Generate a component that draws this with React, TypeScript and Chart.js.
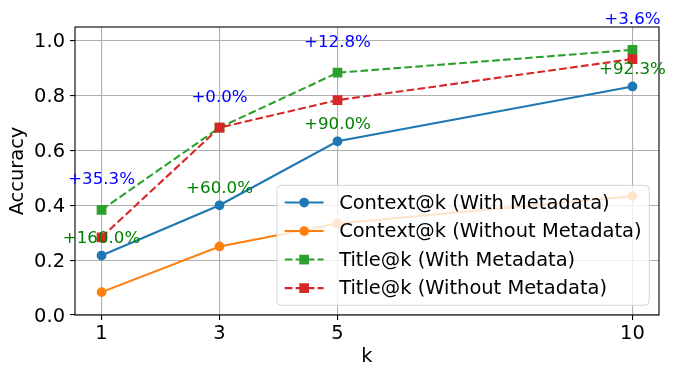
import React, { useEffect, useRef } from "react";
import { Chart, registerables } from "chart.js";

Chart.register(...registerables);

const K_VALUES = [1, 3, 5, 10];
const CONTEXT_WITH = [0.2167, 0.4, 0.6333, 0.8333];
const CONTEXT_WITHOUT = [0.0833, 0.25, 0.3333, 0.4333];
const TITLE_WITH = [0.3833, 0.6833, 0.8833, 0.9667];
const TITLE_WITHOUT = [0.2833, 0.6833, 0.7833, 0.9333];
const TITLE_GAIN = ["+35.3%", "+0.0%", "+12.8%", "+3.6%"];
const CONTEXT_GAIN = ["+160.0%", "+60.0%", "+90.0%", "+92.3%"];
const X_TICKS = [1, 3, 5, 10];
const Y_TICKS = [0, 0.2, 0.4, 0.6, 0.8, 1.0];
const SERIES_LABELS = [
  "Context@k (With Metadata)",
  "Context@k (Without Metadata)",
  "Title@k (With Metadata)",
  "Title@k (Without Metadata)",
];
const SERIES_COLORS = ["#1f77b4", "#ff7f0e", "#2ca02c", "#d62728"];
const SERIES_DASHED = [false, false, true, true];
const SERIES_MARKER = ["circle", "circle", "rect", "rect"];

const FONT = "DejaVu Sans";
const FS = 19.44;
const ANN_FS = 16.67;
const LW = 2.08;
const DASH = [7.7, 3.3];

const overlayPlugin = {
  id: "overlay",
  afterDatasetsDraw(chart: any) {
    const ctx = chart.ctx;
    const xs = chart.scales.x;
    const ys = chart.scales.y;
    const area = chart.chartArea;
    ctx.save();
    // frame (spines)
    ctx.strokeStyle = "#000";
    ctx.lineWidth = 1.1;
    ctx.strokeRect(area.left, area.top, area.right - area.left, area.bottom - area.top);
    // annotations
    ctx.font = `${ANN_FS}px "${FONT}"`;
    ctx.textAlign = "center";
    ctx.textBaseline = "middle";
    K_VALUES.forEach((k, i) => {
      const px = xs.getPixelForValue(k);
      const top = Math.max(TITLE_WITH[i], TITLE_WITHOUT[i]);
      ctx.fillStyle = "blue";
      ctx.fillText(TITLE_GAIN[i], px, ys.getPixelForValue(top + 0.11));
      ctx.fillStyle = "green";
      ctx.fillText(CONTEXT_GAIN[i], px, ys.getPixelForValue(CONTEXT_WITH[i] + 0.061));
    });
    ctx.restore();
  },
  afterDraw(chart: any) {
    const ctx = chart.ctx;
    const area = chart.chartArea;
    ctx.save();
    ctx.font = `${FS}px "${FONT}"`;
    const pad = 0.4 * FS;
    const handle = 2 * FS;
    const textPad = 0.8 * FS;
    const rowH = 18.8;
    const spacing = 0.5 * FS;
    const axPad = 0.5 * FS;
    let maxW = 0;
    SERIES_LABELS.forEach((l) => {
      maxW = Math.max(maxW, ctx.measureText(l).width);
    });
    const w = pad + handle + textPad + maxW + pad;
    const h = pad * 2 + rowH * 4 + spacing * 3;
    const x0 = area.right - axPad - w;
    const y0 = area.bottom - axPad - h;
    // box
    const r = 4;
    ctx.beginPath();
    ctx.moveTo(x0 + r, y0);
    ctx.lineTo(x0 + w - r, y0);
    ctx.quadraticCurveTo(x0 + w, y0, x0 + w, y0 + r);
    ctx.lineTo(x0 + w, y0 + h - r);
    ctx.quadraticCurveTo(x0 + w, y0 + h, x0 + w - r, y0 + h);
    ctx.lineTo(x0 + r, y0 + h);
    ctx.quadraticCurveTo(x0, y0 + h, x0, y0 + h - r);
    ctx.lineTo(x0, y0 + r);
    ctx.quadraticCurveTo(x0, y0, x0 + r, y0);
    ctx.closePath();
    ctx.fillStyle = "rgba(255,255,255,0.8)";
    ctx.fill();
    ctx.strokeStyle = "rgba(204,204,204,0.8)";
    ctx.lineWidth = 1;
    ctx.stroke();
    SERIES_LABELS.forEach((label, i) => {
      const cy = y0 + pad + rowH / 2 + i * (rowH + spacing);
      const hx0 = x0 + pad;
      const hx1 = hx0 + handle;
      ctx.strokeStyle = SERIES_COLORS[i];
      ctx.lineWidth = LW;
      ctx.setLineDash(SERIES_DASHED[i] ? DASH : []);
      ctx.beginPath();
      ctx.moveTo(hx0, cy);
      ctx.lineTo(hx1, cy);
      ctx.stroke();
      ctx.setLineDash([]);
      const mx = (hx0 + hx1) / 2;
      ctx.fillStyle = SERIES_COLORS[i];
      if (SERIES_MARKER[i] === "circle") {
        ctx.beginPath();
        ctx.arc(mx, cy, 4.85, 0, Math.PI * 2);
        ctx.fill();
      } else {
        ctx.fillRect(mx - 4.85, cy - 4.85, 9.7, 9.7);
      }
      ctx.fillStyle = "#000";
      ctx.textAlign = "left";
      ctx.textBaseline = "middle";
      ctx.fillText(label, hx1 + textPad, cy + 1);
    });
    ctx.restore();
  },
};

export default function App() {
  const ref = useRef<HTMLCanvasElement | null>(null);
  useEffect(() => {
    if (!ref.current) return;
    const datasets = SERIES_LABELS.map((label, i) => {
      const values = [CONTEXT_WITH, CONTEXT_WITHOUT, TITLE_WITH, TITLE_WITHOUT][i];
      return {
        label,
        data: K_VALUES.map((k, j) => ({ x: k, y: values[j] })),
        borderColor: SERIES_COLORS[i],
        backgroundColor: SERIES_COLORS[i],
        pointBackgroundColor: SERIES_COLORS[i],
        pointBorderColor: SERIES_COLORS[i],
        borderWidth: LW,
        borderDash: SERIES_DASHED[i] ? DASH : [],
        pointStyle: SERIES_MARKER[i],
        pointRadius: SERIES_MARKER[i] === "circle" ? 4.2 : 5.9,
        pointBorderWidth: 1.39,
        tension: 0,
        fill: false,
        order: 3 - i,
      };
    });
    const chart = new Chart(ref.current, {
      type: "line",
      data: { datasets },
      options: {
        animation: false,
        responsive: false,
        devicePixelRatio: 1,
        layout: { padding: { left: 0, top: 27, right: 17, bottom: 0 } },
        plugins: { legend: { display: false }, tooltip: { enabled: false } },
        scales: {
          x: {
            type: "linear",
            min: 0.55,
            max: 10.45,
            afterBuildTicks: (s: any) => {
              s.ticks = X_TICKS.map((v) => ({ value: v }));
            },
            afterFit: (s: any) => {
              s.height = 63;
            },
            ticks: {
              autoSkip: false,
              maxRotation: 0,
              color: "#000",
              padding: 2,
              font: { family: FONT, size: FS },
              callback: (v: any) => String(v),
            },
            grid: { color: "#b0b0b0", lineWidth: 1.1, tickColor: "#000", tickLength: 5, tickWidth: 1.1 },
            border: { display: false },
            title: {
              display: true,
              text: "k",
              color: "#000",
              font: { family: FONT, size: FS },
              padding: { top: 0, bottom: 9.5 },
            },
          },
          y: {
            type: "linear",
            min: 0,
            max: 1.05,
            afterBuildTicks: (s: any) => {
              s.ticks = Y_TICKS.map((v) => ({ value: v }));
            },
            afterFit: (s: any) => {
              s.width = 75;
            },
            ticks: {
              color: "#000",
              padding: 5,
              labelOffset: 1.5,
              font: { family: FONT, size: FS },
              callback: (v: any) => Number(v).toFixed(1),
            },
            grid: { color: "#b0b0b0", lineWidth: 1.1, tickColor: "#000", tickLength: 5, tickWidth: 1.1 },
            border: { display: false },
            title: {
              display: true,
              text: "Accuracy",
              color: "#000",
              font: { family: FONT, size: FS },
              padding: { top: 6.3, bottom: 0 },
            },
          },
        },
      },
      plugins: [overlayPlugin],
    } as any);
    return () => chart.destroy();
  }, []);
  return (
    <div style={{ position: "absolute", left: 0, top: 0, width: 676, height: 378, background: "#fff" }}>
      <canvas ref={ref} width={676} height={378} style={{ display: "block", width: 676, height: 378 }} />
    </div>
  );
}
